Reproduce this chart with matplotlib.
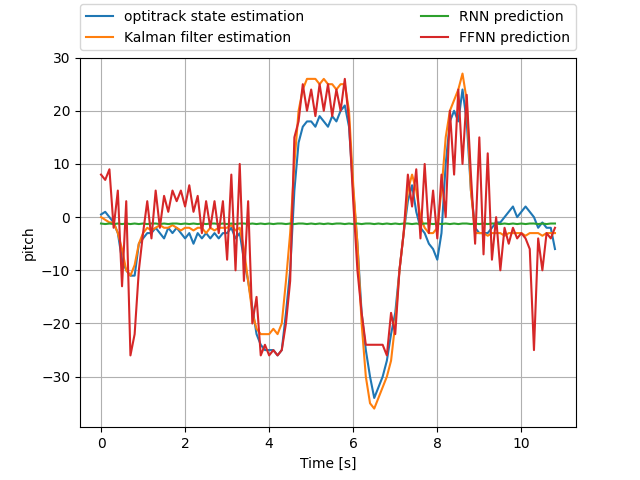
import numpy as np
import matplotlib
matplotlib.use("Agg")
import matplotlib.pyplot as plt

optitrack = [0.5, 1, 0, -1, -3, -8, -10, -11, -11, -5,
             -4, -3, -3, -2, -3, -4, -2, -3, -2, -3,
             -4, -3, -5, -3, -4, -3, -4, -3, -4, -3,
             -3, -2, -4, -3, -8, -12, -17, -22, -24, -25,
             -25, -25, -26, -25, -18, -10, 5, 14, 17, 18,
             18, 17, 19, 18, 17, 19, 18, 20, 21, 17,
             5, -5, -18, -25, -30, -34, -32, -30, -27, -22,
             -18, -10, -3, 3, 6, 1, -2, -3, -5, -6,
             -8, -3, 10, 18, 20, 18, 24, 18, 5, -2,
             -3, -3, -3, -2, -1, -1, 0, 1, 2, 0,
             1, 2, 1, 0, -2, -1, -2, -2, -6]
kalman = [0, -0.5, -1, -1, -3, -6, -10, -11, -9, -5,
          -3, -2, -2.5, -2, -1.5, -2, -2, -1.5, -2, -2.5,
          -2, -2, -2.5, -2, -2, -3, -2, -2.5, -2, -2,
          -2, -1.5, -2.5, -2, -6, -12, -18, -21, -22, -22,
          -22, -21, -22, -20, -12, -3, 10, 20, 24, 26,
          26, 26, 25, 26, 25, 25, 24, 25, 25, 20,
          6, -5, -20, -30, -35, -36, -34, -32, -30, -27,
          -20, -10, -3, 5, 8, 5, 0, -2, -3, -3,
          -2, 5, 15, 20, 22, 24, 27, 22, 5, -3,
          -3, -3, -3.5, -3, -3, -3, -3.5, -3, -3, -3,
          -3, -3.5, -3, -3, -3, -3.5, -3, -3, -3]
rnn = [-1.2, -1.3, -1.2, -1.3, -1.2, -1.3, -1.2, -1.3, -1.2, -1.3,
       -1.2, -1.3, -1.2, -1.2, -1.3, -1.2, -1.3, -1.2, -1.2, -1.3,
       -1.2, -1.3, -1.2, -1.3, -1.2, -1.3, -1.2, -1.2, -1.3, -1.2,
       -1.3, -1.2, -1.3, -1.2, -1.2, -1.3, -1.2, -1.3, -1.2, -1.3,
       -1.2, -1.3, -1.2, -1.2, -1.3, -1.2, -1.3, -1.2, -1.2, -1.3,
       -1.2, -1.3, -1.2, -1.3, -1.2, -1.3, -1.2, -1.2, -1.3, -1.2,
       -1.3, -1.2, -1.3, -1.2, -1.2, -1.3, -1.2, -1.3, -1.2, -1.3,
       -1.2, -1.3, -1.2, -1.2, -1.3, -1.2, -1.3, -1.2, -1.2, -1.3,
       -1.2, -1.3, -1.2, -1.3, -1.2, -1.3, -1.2, -1.2, -1.3, -1.2,
       -1.3, -1.2, -1.3, -1.2, -1.2, -1.3, -1.2, -1.3, -1.2, -1.3,
       -1.2, -1.3, -1.2, -1.2, -1.3, -1.2, -1.3, -1.2, -1.2]
ffnn = [8, 7, 9, -2, 5, -13, 3, -26, -22, -10,
        -3, 3, -4, 5, -2, 4, 1, 5, 3, 5,
        2, 6, 1, 4, -3, 3, -2, 3, -3, 3,
        -8, 8, -10, 10, -12, 3, -20, -15, -26, -24,
        -26, -25, -26, -25, -20, -12, 15, 18, 25, 20,
        24, 19, 25, 20, 25, 19, 24, 20, 26, 18,
        3, -10, -18, -24, -24, -24, -24, -24, -26, -18,
        -22, -10, -3, 8, 2, 9, -4, 10, -3, 5,
        -4, 8, 0, 20, 8, 24, 10, 23, 8, -5,
        15, -7, 12, -8, 0, -10, -2, -5, -2, -4,
        -3, -4, -6, -25, -4, -10, -3, -4, -2]

def times(y):
    return np.arange(len(y)) * 0.1

fig, ax = plt.subplots(figsize=(6.4, 4.8))
ax.plot(times(optitrack), optitrack, color='#1f77b4', label='optitrack state estimation')
ax.plot(times(kalman), kalman, color='#ff7f0e', label='Kalman filter estimation')
ax.plot(times(rnn), rnn, color='#2ca02c', label='RNN prediction')
ax.plot(times(ffnn), ffnn, color='#d62728', label='FFNN prediction')
ax.set_xlim(-0.5, 11.3)
ax.set_ylim(-39.5, 30)
ax.set_xlabel('Time [s]')
ax.set_ylabel('pitch')
ax.grid(True)
ax.legend(loc='lower left', bbox_to_anchor=(0, 1.02, 1, 0.2), mode='expand',
          ncol=2, borderaxespad=0)
fig.savefig('out.png')
